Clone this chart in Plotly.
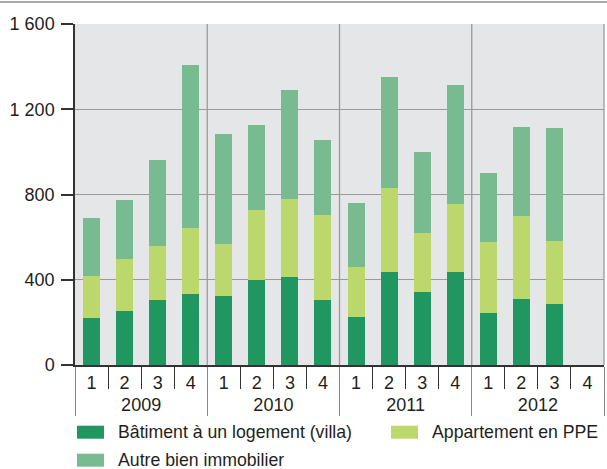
import plotly.graph_objects as go

# ---- data ----
years = ["2009"] * 4 + ["2010"] * 4 + ["2011"] * 4 + ["2012"] * 4
quarters = ["1", "2", "3", "4"] * 4
villa = [219, 252, 304, 332, 323, 398, 412, 304, 224, 435, 341, 435, 243, 308, 285, None]
ppe = [197, 244, 253, 310, 244, 328, 366, 399, 235, 395, 277, 320, 333, 390, 296, None]
autre = [274, 277, 404, 765, 516, 399, 512, 352, 300, 521, 381, 558, 324, 418, 530, None]
series_names = ["Bâtiment à un logement (villa)", "Appartement en PPE", "Autre bien immobilier"]
series_colors = ["#209660", "#bcd86c", "#78bb90"]
y_tickvals = [0, 400, 800, 1200, 1600]
y_ticktext = ["0", "400", "800", "1 200", "1 600"]

W, H = 607, 469
ML, MR, MT, MB = 75, 3, 24, 104
PW = W - ML - MR
PH = H - MT - MB
FONT = "Liberation Sans, Arial, sans-serif"
TXT = "#231f20"

fig = go.Figure()
for name, vals, col in zip(series_names, [villa, ppe, autre], series_colors):
    fig.add_trace(go.Bar(
        x=[years, quarters], y=vals, name=name,
        marker=dict(color=col, line=dict(width=0)),
        showlegend=False,
    ))

def px_x(p):
    return (p - ML) / PW

def px_y(p):
    return (H - MB - p) / PH

shapes = []
# year boundary vertical gridlines
n = len(quarters)
for k in range(1, 5):
    xb = (4 * k) / n
    shapes.append(dict(type="line", xref="paper", yref="paper", x0=xb, x1=xb, y0=0, y1=1,
                       line=dict(color="#9a9a9c", width=1.3), layer="below"))
# top decorative line
shapes.append(dict(type="line", xref="paper", yref="paper", x0=px_x(0), x1=px_x(W),
                   y0=px_y(2), y1=px_y(2), line=dict(color="#a8a8aa", width=2)))

# manual legend
legend_pos = [(77, 432.2), (391, 432.2), (77, 460.2)]
annotations = []
for (lx, ly), name, col in zip(legend_pos, series_names, series_colors):
    shapes.append(dict(type="rect", xref="paper", yref="paper",
                       x0=px_x(lx), x1=px_x(lx + 27), y0=px_y(ly + 6.5), y1=px_y(ly - 6.5),
                       fillcolor=col, line=dict(width=0)))
    annotations.append(dict(xref="paper", yref="paper", x=px_x(lx + 39), y=px_y(ly),
                            text=name, showarrow=False, xanchor="left", yanchor="middle",
                            font=dict(size=17.7, color=TXT, family=FONT)))

fig.update_layout(
    width=W, height=H,
    margin=dict(l=ML, r=MR, t=MT, b=MB, pad=0),
    barmode="stack",
    bargap=0.486,
    plot_bgcolor="#e5e6e8",
    paper_bgcolor="white",
    font=dict(family=FONT, size=18, color=TXT),
    shapes=shapes,
    annotations=annotations,
    showlegend=False,
)
fig.update_xaxes(
    type="multicategory",
    showgrid=False,
    showline=True, linecolor="#333333", linewidth=2,
    ticks="outside", tickson="boundaries", ticklen=22, tickcolor="#333333", tickwidth=1.3,
    showdividers=True, dividercolor="#888888", dividerwidth=1.3,
    tickfont=dict(size=18, color=TXT),
    zeroline=False,
)
fig.update_yaxes(
    range=[0, 1600],
    tickvals=y_tickvals, ticktext=y_ticktext,
    showgrid=True, gridcolor="#9a9a9c", gridwidth=1.3,
    showline=True, linecolor="#333333", linewidth=1.5,
    ticks="outside", ticklen=12, tickcolor="#333333", tickwidth=1.5,
    tickfont=dict(size=18, color=TXT),
    ticklabelstandoff=3,
    zeroline=False,
)

fig.write_html("out.html", config={"displayModeBar": False},
               post_script="document.body.style.margin='0';document.body.style.overflow='hidden';")
